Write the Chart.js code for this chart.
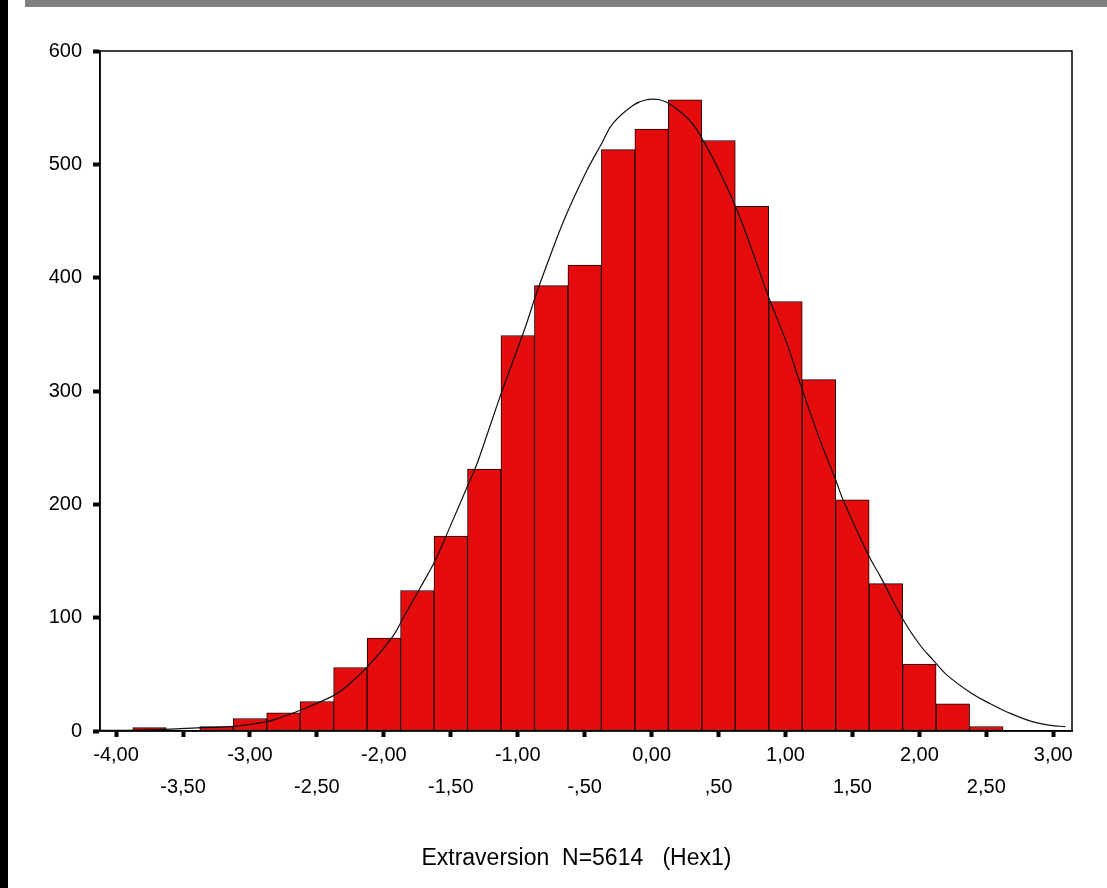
<!DOCTYPE html>
<html>
<head>
<meta charset="utf-8">
<title>Extraversion histogram</title>
<script src="https://cdn.jsdelivr.net/npm/chart.js@4/dist/chart.umd.min.js"></script>
<style>
  body { margin: 0; background: #fff; }
  .wrap { position: relative; width: 1107px; height: 888px; }
  .left-bar { position: absolute; left: 0; top: 0; width: 8px; height: 888px; background: #000; }
  .top-bar { position: absolute; left: 25px; top: 0; width: 1082px; height: 7px; background: #808080; }
</style>
</head>
<body>
<div class="wrap">
  <canvas id="histogram"></canvas>
  <div class="left-bar"></div>
  <div class="top-bar"></div>
</div>
<script>
// Histogram bins (centre of each 0,25 wide bin) and counts
const binCenters = [-3.75, -3.5, -3.25, -3.0, -2.75, -2.5, -2.25, -2.0, -1.75, -1.5, -1.25, -1.0, -0.75,
  -0.5, -0.25, 0.0, 0.25, 0.5, 0.75, 1.0, 1.25, 1.5, 1.75, 2.0, 2.25, 2.5];
const binCounts = [3, 0, 4, 11, 16, 26, 56, 82, 124, 172, 231, 349, 393,
  411, 513, 531, 557, 521, 463, 379, 310, 204, 130, 59, 24, 4];

// Normal curve, points
const curveX = [-4.12, -3.75, -3.36, -3.12, -2.88, -2.78, -2.61, -2.38, -2.28, -2.12, -1.93, -1.85, -1.73,
  -1.61, -1.51, -1.39, -1.31, -1.21, -1.12, -0.95, -0.86, -0.78, -0.65, -0.49, -0.37, -0.29, -0.14, -0.04,
  0.06, 0.14, 0.29, 0.39, 0.51, 0.64, 0.76, 0.87, 1.01, 1.12, 1.26, 1.38, 1.43, 1.62, 1.71, 1.88, 2.01,
  2.10, 2.20, 2.38, 2.53, 2.65, 2.85, 2.98, 3.09];
const curveY = [0.5, 1, 3, 4, 8, 11.5, 19, 31, 39, 57, 84, 101, 126,
  152, 179, 212, 234, 268, 299, 354, 386, 412, 452, 493, 519, 536, 552, 557,
  557, 553, 538, 520, 493, 459, 421, 384, 342, 303, 256, 220, 204, 155, 136, 98, 75,
  63, 50, 34, 24, 17, 8, 5, 3.8];

// Axis ticks
const xTickValues = [-4, -3.5, -3, -2.5, -2, -1.5, -1, -0.5, 0, 0.5, 1, 1.5, 2, 2.5, 3];
const xTickLabels = ["-4,00", "-3,50", "-3,00", "-2,50", "-2,00", "-1,50", "-1,00", "-,50",
  "0,00", ",50", "1,00", "1,50", "2,00", "2,50", "3,00"];
const yTickLabels = ["0", "100", "200", "300", "400", "500", "600"];

// trailing spaces nudge the centred title a little to the left, as in the original
const axisTitle = "Extraversion  N=5614   (Hex1)\u00a0\u00a0\u00a0";

const FONT = "'Liberation Sans', Arial, sans-serif";

// box round the plot area (top and right edges too)
const frame = {
  id: "frame",
  afterDraw(chart) {
    const { ctx, chartArea } = chart;
    ctx.save();
    ctx.strokeStyle = "#000";
    ctx.lineWidth = 1.5;
    ctx.strokeRect(chartArea.left, chartArea.top, chartArea.right - chartArea.left, chartArea.bottom - chartArea.top);
    ctx.restore();
  },
};

new Chart(document.querySelector("#histogram"), {
  type: "bar",
  data: {
    datasets: [
      {
        type: "line",
        data: curveX.map((x, i) => ({ x, y: curveY[i] })),
        borderColor: "#111",
        borderWidth: 1.2,
        pointRadius: 0,
        tension: 0.4,
        order: 0,
      },
      {
        type: "bar",
        data: binCenters.map((x, i) => ({ x, y: binCounts[i] })),
        backgroundColor: "#e40c0c",
        borderColor: "#1a0000",
        borderWidth: 1,
        borderSkipped: false,
        barPercentage: 1,
        categoryPercentage: 1,
        order: 1,
      },
    ],
  },
  options: {
    responsive: true,
    maintainAspectRatio: false,
    animation: false,
    layout: { padding: { top: 51, right: 35, left: 0, bottom: 0 } },
    plugins: { legend: { display: false }, tooltip: { enabled: false } },
    scales: {
      x: {
        type: "linear",
        min: -4.12,
        max: 3.14,
        offset: false,
        afterBuildTicks: (scale) => {
          scale.ticks = xTickValues.map((value) => ({ value }));
        },
        afterFit: (scale) => { scale.height = 157; },
        ticks: {
          autoSkip: false,
          maxRotation: 0,
          minRotation: 0,
          padding: 2,
          color: "#000",
          font: { family: FONT, size: 20, lineHeight: 1.6 },
          // whole numbers on the first row, halves on the second
          callback: (value, index) => (index % 2 === 0 ? xTickLabels[index] : ["", xTickLabels[index]]),
        },
        grid: { offset: false, drawOnChartArea: false, tickLength: 6, tickWidth: 4, tickColor: "#000" },
        border: { color: "#000", width: 1.5 },
        title: {
          display: true,
          text: axisTitle,
          color: "#000",
          font: { family: FONT, size: 23 },
          padding: { bottom: 16 },
        },
      },
      y: {
        min: 0,
        max: 600,
        afterFit: (scale) => { scale.width = 100; },
        ticks: {
          stepSize: 100,
          padding: 11,
          color: "#000",
          font: { family: FONT, size: 20 },
          callback: (value) => yTickLabels[value / 100],
        },
        grid: { drawOnChartArea: false, tickLength: 7, tickWidth: 4, tickColor: "#000" },
        border: { color: "#000", width: 1.5 },
      },
    },
  },
  plugins: [frame],
});
</script>
</body>
</html>
